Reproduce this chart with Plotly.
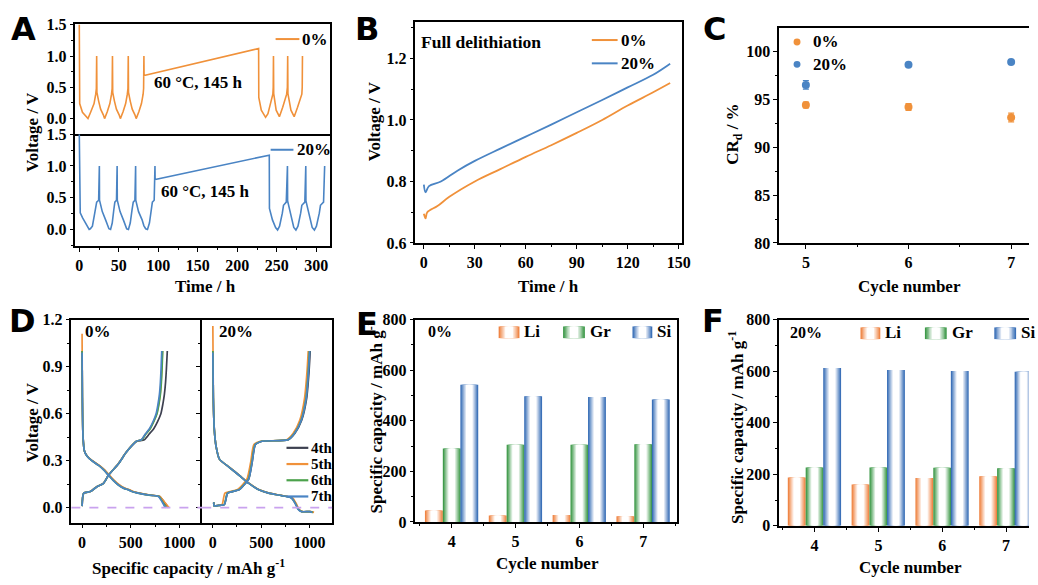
import plotly.graph_objects as go

W, H = 1038, 585
def px(x): return x / W
def py(y): return 1 - y / H

ORANGE = '#F0913A'
BLUE = '#4A84C4'
GREEN = '#4CA24C'
DARK = '#3D4050'
PURPLE = '#C9A2EE'
SERIF = 'Liberation Serif'

# ---------------- Panel A data (time / h, voltage / V) ----------------
A0_t = [0, 0.5, 4, 8, 11, 14.6, 18.7, 20.8, 21.6, 22,
        22.3, 24.5, 27, 30.4, 32, 35.4, 38.7, 40.8, 41.6, 42,
        42.3, 44.5, 47, 50.4, 52, 55.4, 58.7, 60.8, 61.6, 62,
        62.3, 64.5, 67, 70.4, 72, 75.4, 78.7, 80.8, 81.4, 81.8,
        82, 227,
        227.2, 230.4, 234.6, 235.8, 238.8, 242.9, 245, 245.5, 245.8,
        246.1, 249.2, 253.3, 257.5, 261.5, 262.5, 263.4, 263.8,
        264.1, 267.9, 272, 276.3, 280.5, 281.7, 282.2, 282.5]
A0_v = [1.5, 0.24, 0.10, 0.05, 0.0, 0.11, 0.24, 0.39, 0.48, 1.0,
        0.42, 0.28, 0.15, 0.06, 0.0, 0.11, 0.24, 0.39, 0.48, 1.0,
        0.42, 0.28, 0.15, 0.06, 0.0, 0.11, 0.24, 0.39, 0.48, 1.0,
        0.42, 0.28, 0.15, 0.06, 0.0, 0.11, 0.24, 0.39, 0.48, 1.0,
        0.69, 1.12,
        0.34, 0.135, 0.057, 0.02, 0.08, 0.26, 0.39, 0.5, 1.0,
        0.40, 0.135, 0.03, 0.18, 0.33, 0.39, 0.5, 1.0,
        0.40, 0.135, 0.03, 0.18, 0.33, 0.39, 0.5, 1.0]

A20_t = [0, 1.2, 4.2, 8.3, 11, 12.5, 14, 16.6, 19.6, 22, 24.5, 25.4,
         25.6, 29.1, 33.3, 35.4, 37.5, 39.6, 41.7, 43.7, 45, 47.1, 47.9,
         48.1, 51.6, 55.8, 58, 60, 62.2, 64.5, 66.8, 68.3, 70.4, 71.3,
         71.5, 75, 79.5, 81.7, 84, 86.3, 88.8, 91, 92.5, 94.8, 95.8,
         96, 240.5,
         240.7, 244.5, 248.5, 251, 253.5, 257, 258.5, 262, 263.5,
         263.7, 266.5, 268.5, 271.5, 274.2, 276.8, 280.2, 281.7, 285.5, 286.7,
         286.9, 289.7, 291.8, 294.8, 297.6, 300.2, 303.8, 305.3, 309.2, 310.6]
A20_v = [1.5, 0.26, 0.18, 0.08, 0.03, 0.0, 0.01, 0.05, 0.26, 0.43, 0.46, 1.0,
         0.46, 0.28, 0.15, 0.06, 0.01, 0.0, 0.10, 0.31, 0.43, 0.46, 1.0,
         0.46, 0.28, 0.15, 0.06, 0.01, 0.0, 0.10, 0.31, 0.43, 0.46, 1.0,
         0.46, 0.28, 0.15, 0.06, 0.01, 0.0, 0.10, 0.31, 0.43, 0.46, 1.0,
         0.785, 1.17,
         0.33, 0.15, 0.03, -0.01, 0.05, 0.255, 0.38, 0.43, 1.0,
         0.45, 0.30, 0.15, 0.03, -0.01, 0.05, 0.255, 0.38, 0.43, 1.0,
         0.45, 0.30, 0.15, 0.03, -0.01, 0.05, 0.255, 0.38, 0.43, 1.0]

# ---------------- Panel B data ----------------
B0_t = [0, 1, 2, 8, 15, 30, 45, 60, 75, 90, 105, 120, 135, 145]
B0_v = [0.695, 0.68, 0.70, 0.72, 0.75, 0.80, 0.84, 0.88, 0.918, 0.958, 1.0, 1.047, 1.09, 1.12]
B20_t = [0, 1, 3, 10, 20, 30, 45, 60, 75, 90, 105, 120, 135, 145]
B20_v = [0.79, 0.765, 0.785, 0.80, 0.836, 0.867, 0.907, 0.946, 0.985, 1.025, 1.065, 1.106, 1.147, 1.183]

# ---------------- Panel C data ----------------
C_cycles = [5, 6, 7]
C0 = [94.4, 94.2, 93.1]
C0_err = [0.3, 0.35, 0.45]
C20 = [96.5, 98.6, 98.9]
C20_err = [0.45, 0.15, 0.15]

# ---------------- Panel D data ----------------
D_cycles = ['4th', '5th', '6th', '7th']
D_colors = [DARK, ORANGE, GREEN, BLUE]
D0_ocv = [1.0, 1.11, 1.0, 0.99]
D0_dis_v = [0.7, 0.45, 0.36, 0.33, 0.30, 0.27, 0.24, 0.207, 0.175, 0.145, 0.125, 0.114, 0.10, 0.093, 0.085, 0.079, 0.072, 0.05, 0.03, 0.0]
D0_dis_cap = [
    [3, 10, 25, 50, 102, 174, 230, 276, 325, 379, 432, 482, 538, 585, 648, 720, 798, 826, 850, 888],
    [3, 10, 25, 52, 105, 178, 235, 282, 330, 385, 438, 488, 545, 592, 655, 726, 800, 830, 855, 895],
    [3, 10, 25, 50, 100, 170, 225, 271, 320, 373, 425, 474, 530, 576, 640, 711, 790, 815, 835, 865],
    [3, 10, 25, 50, 100, 170, 225, 271, 320, 373, 425, 474, 530, 576, 640, 711, 785, 810, 829, 855]]
D0_chg_v = [0.01, 0.093, 0.103, 0.134, 0.155, 0.207, 0.279, 0.35, 0.393, 0.424, 0.434, 0.47, 0.506, 0.55, 0.6, 0.66, 0.723, 0.8, 0.888, 1.0]
D0_chg_cap = [
    [0, 17, 85, 152, 220, 271, 372, 450, 507, 565, 640, 690, 738, 776, 810, 830, 846, 858, 867, 876],
    [0, 17, 85, 150, 218, 270, 370, 449, 506, 557, 610, 654, 699, 735, 767, 787, 802, 812, 820, 826],
    [0, 17, 85, 152, 220, 271, 372, 450, 507, 558, 612, 656, 702, 738, 770, 790, 805, 815, 822, 829],
    [0, 17, 85, 152, 220, 271, 372, 450, 507, 558, 609, 650, 694, 730, 761, 780, 795, 805, 812, 819]]
D20_ocv = [1.0, 1.16, 1.0, 0.99]
D20_dis_v = [0.7, 0.5, 0.39, 0.31, 0.258, 0.207, 0.155, 0.114, 0.093, 0.077, 0.062, 0.03, -0.01, -0.025, -0.025, -0.03]
D20_dis_cap = [
    [5, 15, 34, 68, 170, 272, 375, 478, 580, 716, 818, 855, 888, 922, 1008, 1040],
    [5, 15, 34, 68, 172, 274, 378, 482, 585, 722, 826, 860, 892, 928, 1015, 1048],
    [5, 15, 34, 68, 170, 271, 373, 475, 577, 712, 814, 852, 885, 920, 1005, 1035],
    [5, 15, 34, 68, 170, 271, 373, 475, 577, 712, 814, 850, 882, 916, 1000, 1030]]
D20_chg_v = [0.035, 0.012, 0.015, 0.02, 0.093, 0.103, 0.114, 0.145, 0.186, 0.29, 0.403, 0.424, 0.434, 0.475, 0.558, 0.7, 0.867, 1.0]
D20_chg_cap = [
    [10, 12, 60, 119, 153, 203, 271, 322, 373, 407, 441, 509, 782, 850, 920, 972, 996, 1008],
    [10, 12, 55, 95, 125, 180, 250, 305, 355, 392, 425, 492, 765, 832, 900, 950, 975, 988],
    [10, 12, 60, 117, 150, 200, 268, 319, 370, 404, 438, 506, 778, 845, 914, 965, 988, 1000],
    [10, 12, 60, 119, 153, 203, 271, 322, 373, 407, 441, 509, 780, 847, 916, 967, 990, 1003]]

# ---------------- Panels E/F data ----------------
bar_cycles = [4, 5, 6, 7]
bar_names = ['Li', 'Gr', 'Si']
bar_colors = ['#EF8443', '#3E9A4A', '#3B70B8']
E_vals = {'Li': [45, 25, 27, 22], 'Gr': [290, 305, 305, 307], 'Si': [543, 497, 494, 484]}
F_vals = {'Li': [187, 160, 186, 192], 'Gr': [226, 226, 225, 223], 'Si': [612, 605, 601, 598]}

fig = go.Figure()
annotations = []
shapes = []

def tickfont(size=16):
    return dict(family=SERIF, size=size, color='black', weight=700)

def axis(domain, rng, dtick=None, tick0=0, minor=None, labels=True, mirror=True, ticks='outside', anchor=None, fmt=None):
    d = dict(domain=domain, range=rng, showline=True, linecolor='black', linewidth=1.5, mirror=mirror,
             ticks=ticks, ticklen=4, tickwidth=1.3, tickcolor='black', showgrid=False, zeroline=False,
             showticklabels=labels, tickfont=tickfont(), anchor=anchor, fixedrange=True,
             tickprefix='<b>', ticksuffix='</b>')
    if dtick is not None:
        d.update(tickmode='linear', dtick=dtick, tick0=tick0)
    if minor is not None:
        d['minor'] = dict(ticks=ticks, ticklen=2.5, tickwidth=1.1, tickcolor='black', dtick=minor, tick0=tick0, showgrid=False)
    if fmt:
        d['tickformat'] = fmt
    return d

def text(x, y, s, size=17, xanchor='center', yanchor='middle', angle=0, family=SERIF):
    annotations.append(dict(x=px(x), y=py(y), xref='paper', yref='paper', text=s, showarrow=False,
                            xanchor=xanchor, yanchor=yanchor, textangle=angle,
                            font=dict(family=family, size=size, color='black', weight='bold')))

def line(x0, x1, y, color, width=2):
    shapes.append(dict(type='line', xref='paper', yref='paper', x0=px(x0), x1=px(x1), y0=py(y), y1=py(y),
                       line=dict(color=color, width=width)))

def blend(c, f):
    r, g, b = int(c[1:3], 16), int(c[3:5], 16), int(c[5:7], 16)
    return 'rgb(%d,%d,%d)' % (round(r + (255 - r) * f), round(g + (255 - g) * f), round(b + (255 - b) * f))

NL = 8
def layer_spec():
    out = []
    for k in range(NL):
        frac = 1 - k / NL
        f = min(1.0, k / (NL - 3))
        out.append((frac, f))
    return out

# ---------- Layout axes ----------
lay = {}
# A top
lay['xaxis'] = axis([px(76), px(333)], [-5, 317.5], dtick=50, labels=False, ticks='', anchor='y')
lay['yaxis'] = axis([py(130), py(16)], [-0.25, 1.52], dtick=0.5, minor=0.25, anchor='x', fmt='.1f')
# A bottom
lay['xaxis2'] = axis([px(76), px(333)], [-5, 317.5], dtick=50, minor=25, anchor='y2', mirror=False)
lay['yaxis2'] = axis([py(245), py(130)], [-0.26, 1.5], dtick=0.5, minor=0.25, anchor='x2', fmt='.1f')
# B
lay['xaxis3'] = axis([px(419), px(688)], [-5, 152], dtick=30, minor=15, anchor='y3')
lay['yaxis3'] = axis([py(242), py(14)], [0.6, 1.32], dtick=0.2, tick0=0.6, minor=0.1, anchor='x3', fmt='.1f')
# C
lay['xaxis4'] = axis([px(786), 1.0], [4.74, 7.174], dtick=1, minor=0.5, anchor='y4')
lay['yaxis4'] = axis([py(242), py(21)], [80, 102.4], dtick=5, minor=2.5, anchor='x4', mirror=False)
# D left / right
lay['xaxis5'] = axis([px(72), px(204)], [-110, 1235], dtick=500, minor=250, anchor='y5')
lay['yaxis5'] = axis([py(530), py(321)], [-0.095, 1.2], dtick=0.3, minor=0.15, anchor='x5', mirror=False, fmt='.1f')
lay['xaxis6'] = axis([px(204), px(335)], [-110, 1235], dtick=500, minor=250, anchor='y6')
lay['yaxis6'] = axis([py(530), py(321)], [-0.095, 1.2], dtick=0.3, minor=0.15, anchor='x6', labels=False)
# E
lay['xaxis7'] = axis([px(419), px(683)], [3.43, 7.53], dtick=1, minor=0.5, anchor='y7')
lay['yaxis7'] = axis([py(529.3), py(321)], [0, 800], dtick=200, minor=100, anchor='x7')
# F
lay['xaxis8'] = axis([px(786), 1.0], [3.445, 7.36], dtick=1, minor=0.5, anchor='y8')
lay['yaxis8'] = axis([py(533.3), py(321)], [0, 800], dtick=200, minor=100, anchor='x8', mirror=False)

# ---------- Panel A ----------
fig.add_trace(go.Scatter(x=A0_t, y=A0_v, mode='lines', line=dict(color=ORANGE, width=1.6), xaxis='x', yaxis='y'))
fig.add_trace(go.Scatter(x=A20_t, y=A20_v, mode='lines', line=dict(color=BLUE, width=1.6), xaxis='x2', yaxis='y2'))
text(200, 77, '60 °C, 145 h', size=17)
text(207, 189, '60 °C, 145 h', size=17)
line(278, 302, 32, ORANGE)
text(303, 32, '0%', xanchor='left', size=17)
line(273, 296, 146, BLUE)
text(298, 146, '20%', xanchor='left', size=17)
text(33, 128, 'Voltage / V', angle=-90)
text(207, 287, 'Time / h')

# ---------- Panel B ----------
fig.add_trace(go.Scatter(x=B0_t, y=B0_v, mode='lines', line=dict(color=ORANGE, width=1.8, shape='spline'), xaxis='x3', yaxis='y3'))
fig.add_trace(go.Scatter(x=B20_t, y=B20_v, mode='lines', line=dict(color=BLUE, width=1.8, shape='spline'), xaxis='x3', yaxis='y3'))
text(423, 35, 'Full delithiation', xanchor='left', size=17.5)
line(597, 623, 33, ORANGE)
text(624, 33, '0%', xanchor='left')
line(597, 623, 57, BLUE)
text(624, 57, '20%', xanchor='left')
text(378, 117, 'Voltage / V', angle=-90)
text(553, 287, 'Time / h')

# ---------- Panel C ----------
fig.add_trace(go.Scatter(x=C_cycles, y=C0, mode='markers', marker=dict(color=ORANGE, size=8),
                         error_y=dict(type='data', array=C0_err, color=ORANGE, thickness=1.2, width=3),
                         xaxis='x4', yaxis='y4'))
fig.add_trace(go.Scatter(x=C_cycles, y=C20, mode='markers', marker=dict(color=BLUE, size=8),
                         error_y=dict(type='data', array=C20_err, color=BLUE, thickness=1.2, width=3),
                         xaxis='x4', yaxis='y4'))
shapes.append(dict(type='circle', xref='paper', yref='paper', x0=px(800.5), x1=px(807.5), y0=py(38.5), y1=py(31.5),
                   fillcolor=ORANGE, line=dict(width=0)))
shapes.append(dict(type='circle', xref='paper', yref='paper', x0=px(800.5), x1=px(807.5), y0=py(61.5), y1=py(54.5),
                   fillcolor=BLUE, line=dict(width=0)))
text(818, 35, '0%', xanchor='left')
text(818, 58, '20%', xanchor='left')
text(741, 130, 'CR<sub>d</sub> / %', angle=-90)
text(917, 287, 'Cycle number')

# ---------- Panel D ----------
for i, name in enumerate(D_cycles):
    c = D_colors[i]
    fig.add_trace(go.Scatter(x=[0] + D0_dis_cap[i], y=[D0_ocv[i]] + D0_dis_v, mode='lines',
                             line=dict(color=c, width=1.7, shape='spline', smoothing=0.6), xaxis='x5', yaxis='y5'))
    fig.add_trace(go.Scatter(x=D0_chg_cap[i], y=D0_chg_v, mode='lines',
                             line=dict(color=c, width=1.7, shape='spline', smoothing=0.6), xaxis='x5', yaxis='y5'))
    fig.add_trace(go.Scatter(x=[0] + D20_dis_cap[i], y=[D20_ocv[i]] + D20_dis_v, mode='lines',
                             line=dict(color=c, width=1.7, shape='spline', smoothing=0.6), xaxis='x6', yaxis='y6'))
    fig.add_trace(go.Scatter(x=D20_chg_cap[i], y=D20_chg_v, mode='lines',
                             line=dict(color=c, width=1.7, shape='spline', smoothing=0.6), xaxis='x6', yaxis='y6'))
for xa, ya in (('x5', 'y5'), ('x6', 'y6')):
    shapes.append(dict(type='line', xref=xa + ' domain', yref=ya, x0=0, x1=1, y0=0, y1=0,
                       line=dict(color=PURPLE, width=1.8, dash='dash')))
text(84, 333, '0%', xanchor='left')
text(219, 333, '20%', xanchor='left')
for i, name in enumerate(D_cycles):
    yy = 453 + i * 16.7
    line(289, 311, yy, D_colors[i], width=2.2)
    text(312, yy, name, xanchor='left', size=15)
text(33, 427, 'Voltage / V', angle=-90)
text(190, 576, 'Specific capacity / mAh g<sup>-1</sup>')

# ---------- Panels E / F ----------
BAR_W = 0.28
BAR_CENTERS = [-0.28, 0.0, 0.275]
for vals, xa, ya in ((E_vals, 'x7', 'y7'), (F_vals, 'x8', 'y8')):
    for j, nm in enumerate(bar_names):
        for frac, f in layer_spec():
            w = BAR_W * frac
            fig.add_trace(go.Bar(x=bar_cycles, y=vals[nm], width=[w] * 4, offset=[BAR_CENTERS[j] - w / 2] * 4,
                                 marker=dict(color=blend(bar_colors[j], f), line=dict(width=0)),
                                 xaxis=xa, yaxis=ya))

def legend_patch(x0, x1, y0, y1, color):
    cx = (x0 + x1) / 2
    hw = (x1 - x0) / 2
    for frac, f in layer_spec():
        shapes.append(dict(type='rect', xref='paper', yref='paper', x0=px(cx - hw * frac), x1=px(cx + hw * frac),
                           y0=py(y1), y1=py(y0), fillcolor=blend(color, f), line=dict(width=0)))

text(430, 333, '0%', xanchor='left', size=16)
for (x0, x1, tx), nm, col in zip(((503, 524, 527), (568, 590, 593), (638, 658, 661)), bar_names, bar_colors):
    legend_patch(x0, x1, 328, 340, col)
    text(tx, 333, nm, xanchor='left')
text(795, 334, '20%', xanchor='left', size=16)
for (x0, x1, tx), nm, col in zip(((868, 888, 891), (933, 955, 958), (1003, 1025, 1028)), bar_names, bar_colors):
    legend_patch(x0, x1, 329, 341, col)
    text(tx, 334, nm, xanchor='left')
text(378, 421, 'Specific capacity / mAh g<sup>-1</sup>', angle=-90)
text(552, 572, 'Cycle number')
text(743, 432, 'Specific capacity / mAh g<sup>-1</sup>', angle=-90)
text(918, 576, 'Cycle number')

# ---------- Panel letters ----------
for lx, ly, s in ((24, 22, 'A'), (370, 22, 'B'), (721, 22, 'C'), (23, 322, 'D'), (370, 325, 'E'), (719, 322, 'F')):
    text(lx, ly, s, size=32, family='DejaVu Sans')

fig.update_layout(**lay)
fig.update_layout(width=W, height=H, margin=dict(l=0, r=0, t=0, b=0), paper_bgcolor='white', plot_bgcolor='white',
                  showlegend=False, barmode='overlay', annotations=annotations, shapes=shapes,
                  font=dict(family=SERIF, color='black'))
fig.write_html('out.html', config={'displayModeBar': False})
